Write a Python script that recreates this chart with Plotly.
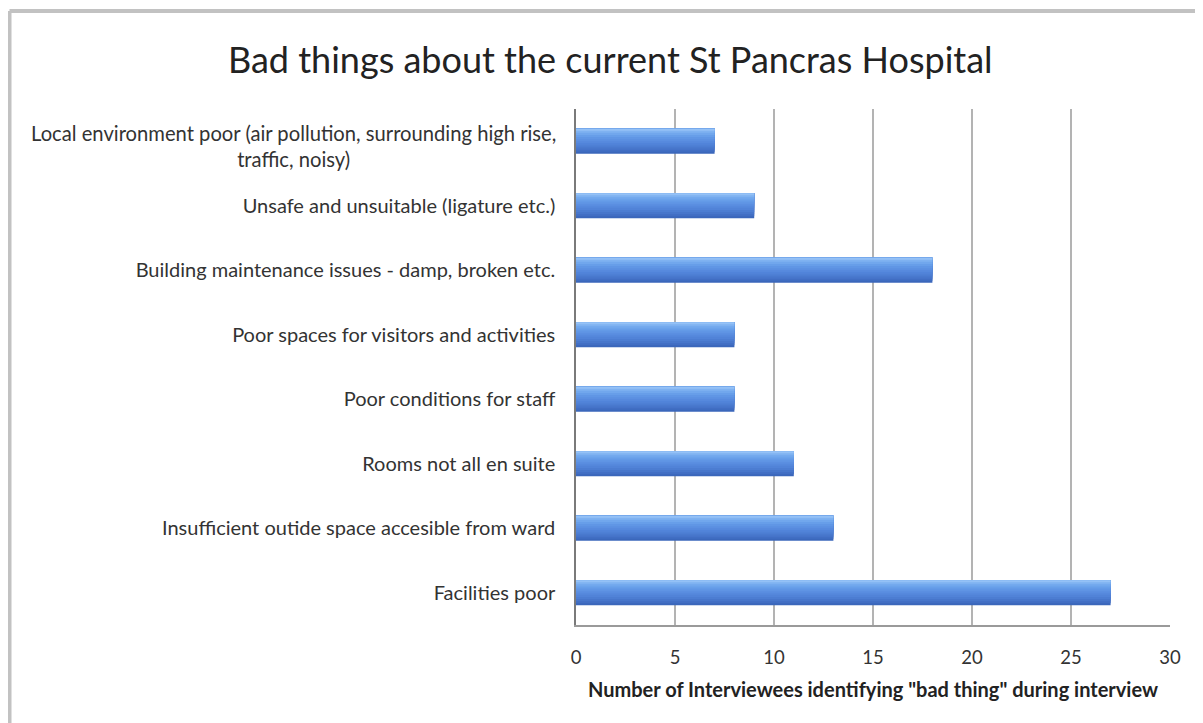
import plotly.graph_objects as go

categories = [
    "Facilities poor",
    "Insufficient outide space accesible from ward",
    "Rooms not all en suite",
    "Poor conditions for staff",
    "Poor spaces for visitors and activities",
    "Building maintenance issues - damp, broken etc.",
    "Unsafe and unsuitable (ligature etc.)",
    "Local environment poor (air pollution, surrounding high rise,<br>traffic, noisy)",
]
values = [27, 13, 11, 8, 8, 18, 9, 7]
x_ticks = [0, 5, 10, 15, 20, 25, 30]

title_text = "Bad things about the current St Pancras Hospital"
x_title = "Number of Interviewees identifying \"bad thing\" during interview"

FONT = "Lato"
positions = list(range(len(categories)))

# vertical gradient inside each bar (bottom -> top), drawn as overlaid bars
stripe_colors = ["#3b67bb", "#416ec3", "#4776cb", "#4c7dd2", "#5183d8", "#5689dd",
                 "#5b8fe1", "#6096e5", "#679ee9", "#71a7ed", "#7fb2f1", "#94c1f6"]
bar_w = 0.39
n = len(stripe_colors)
sw = bar_w / n

fig = go.Figure()
for i, c in enumerate(stripe_colors):
    fig.add_trace(go.Bar(
        x=values, y=positions, orientation="h",
        width=bar_w - i * sw, offset=-bar_w / 2 + i * sw,
        marker=dict(color=c, line=dict(width=0)),
        showlegend=False, hoverinfo="x",
    ))

ticktext = [c if "<br>" not in c else "" for c in categories]
annotations = []
for p, c in zip(positions, categories):
    if "<br>" in c:
        annotations.append(dict(
            x=-0.0300, xref="paper", y=p, yref="y", yshift=-5, text=c, showarrow=False,
            xanchor="right", yanchor="middle", align="center",
            font=dict(family=FONT, size=20.2, color="#333333"),
        ))

fig.update_layout(
    width=1195, height=715,
    margin=dict(l=568, r=33, t=101, b=98),
    paper_bgcolor="white", plot_bgcolor="white",
    barmode="overlay",
    title=dict(text=title_text, x=0.504, xanchor="center", y=0.927, yanchor="middle",
               font=dict(family=FONT, size=36, color="#222222")),
    font=dict(family=FONT, color="#333333"),
    annotations=annotations,
    shapes=[
        dict(type="line", xref="paper", yref="paper", x0=-0.9537, x1=1.2, y0=1.1899, y1=1.1899,
             line=dict(color="#c2c2c2", width=4)),
        dict(type="line", xref="paper", yref="paper", x0=-0.9537, x1=-0.9537, y0=1.1899, y1=-0.3,
             line=dict(color="#c2c2c2", width=4)),
    ],
)
fig.update_xaxes(
    range=[0, 30], tickvals=x_ticks, ticktext=[str(t) for t in x_ticks],
    showgrid=True, gridcolor="#b3b3b3", gridwidth=2,
    showline=True, linecolor="#9a9a9a", linewidth=1.5,
    zeroline=False, ticks="", ticklabelstandoff=15,
    tickfont=dict(family=FONT, size=18.5, color="#333333"),
    title=dict(text="<b>" + x_title + "</b>", standoff=16,
               font=dict(family=FONT, size=20, color="#222222")),
    fixedrange=True,
)
fig.update_yaxes(
    range=[-0.5, len(categories) - 0.5],
    tickvals=positions, ticktext=ticktext,
    showgrid=False, zeroline=False,
    showline=True, linecolor="#7a7a7a", linewidth=1.5,
    ticks="", ticklabelstandoff=15,
    tickfont=dict(family=FONT, size=20, color="#333333"),
    fixedrange=True,
)
fig.write_html("out.html")
